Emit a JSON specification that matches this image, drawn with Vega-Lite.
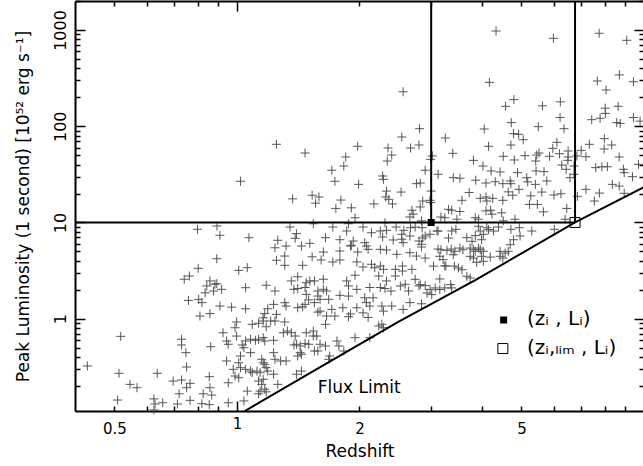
{
"$schema":"https://vega.github.io/schema/vega-lite/v6.json",
"width":569,"height":410,
"autosize":{"type":"none"},
"padding":{"left":75,"top":1,"right":0,"bottom":55},
"background":"white",
"config":{"view":{"stroke":null},"font":"DejaVu Sans",
"axis":{"domainColor":"black","domainWidth":2,"tickColor":"black","tickWidth":1.5,"labelFont":"DejaVu Sans","labelFontSize":15,"labelColor":"black","titleFont":"DejaVu Sans","titleFontSize":17,"titleFontWeight":"normal","titleColor":"black","grid":false,"labelOverlap":false,"labelFlush":false}},
"datasets":{
"grb":[
{"z":2.56,"L":228},{"z":2.81,"L":94.3},{"z":2.54,"L":77.3},{"z":1.25,"L":64.9},{"z":1.98,"L":61.9},{"z":2.35,"L":59.4},{"z":2.67,"L":59.4},{"z":2.80,"L":63.8},{"z":1.47,"L":52.7},{"z":2.40,"L":50.2},{"z":1.85,"L":47.9},{"z":2.34,"L":43.5},{"z":3.02,"L":49.1},{"z":2.99,"L":45.3},{"z":1.83,"L":38.6},{"z":1.71,"L":34.9},{"z":2.90,"L":34.9},{"z":3.12,"L":31.7},{"z":1.02,"L":26.8},{"z":1.74,"L":26.8},{"z":2.28,"L":30.4},{"z":2.29,"L":28.1},{"z":1.99,"L":24.9},{"z":2.76,"L":25.3},{"z":2.82,"L":25.7},{"z":3.0,"L":21.2},{"z":2.33,"L":21.2},{"z":2.53,"L":20.7},{"z":1.37,"L":17.6},{"z":1.53,"L":19.2},{"z":1.59,"L":18.4},{"z":1.56,"L":15.9},{"z":1.80,"L":17.1},{"z":2.32,"L":18.4},{"z":2.36,"L":17.4},{"z":2.17,"L":15.6},{"z":2.41,"L":15.6},{"z":2.86,"L":16.7},{"z":2.98,"L":17.0},{"z":1.75,"L":14.0},{"z":1.91,"L":14.2},{"z":2.69,"L":13.4},{"z":2.82,"L":14.5},{"z":2.71,"L":12.2},{"z":1.95,"L":11.2},{"z":2.66,"L":11.4},{"z":2.99,"L":16.1},
{"z":1.35,"L":8.97},{"z":1.54,"L":9.70},{"z":1.72,"L":8.97},{"z":1.88,"L":9.70},{"z":2.04,"L":8.97},{"z":2.31,"L":9.93},{"z":2.46,"L":8.97},{"z":2.57,"L":8.29},{"z":2.67,"L":8.82},{"z":2.74,"L":8.97},{"z":2.85,"L":8.82},{"z":0.908,"L":7.36},{"z":1.07,"L":6.95},{"z":1.26,"L":6.53},{"z":1.40,"L":7.65},{"z":1.39,"L":6.85},{"z":1.65,"L":6.95},{"z":1.79,"L":6.62},{"z":1.86,"L":8.15},{"z":2.14,"L":7.82},{"z":2.25,"L":8.15},{"z":2.28,"L":7.07},{"z":2.33,"L":8.29},{"z":2.54,"L":7.54},{"z":2.54,"L":6.70},{"z":2.66,"L":7.24},{"z":2.90,"L":7.24},{"z":2.98,"L":7.54},{"z":3.10,"L":8.15},
{"z":4.33,"L":976},{"z":5.99,"L":819},{"z":7.76,"L":924},{"z":9.07,"L":781},{"z":4.17,"L":286},{"z":7.68,"L":295},{"z":8.70,"L":341},{"z":9.42,"L":290},{"z":8.07,"L":238},{"z":4.79,"L":189},{"z":4.57,"L":161},{"z":5.63,"L":163},{"z":6.23,"L":179},{"z":8.64,"L":161},{"z":8.03,"L":154},{"z":8.04,"L":136},{"z":7.80,"L":121},{"z":7.44,"L":117},{"z":6.22,"L":123},{"z":9.42,"L":123},{"z":9.78,"L":113},{"z":8.57,"L":109},{"z":8.74,"L":107},{"z":4.72,"L":109},{"z":5.50,"L":98.9},{"z":6.36,"L":94.3},{"z":4.05,"L":93.6},{"z":4.78,"L":83.7},{"z":4.92,"L":82.5},{"z":5.05,"L":72.4},{"z":3.25,"L":75.5},{"z":7.99,"L":74.2},{"z":4.71,"L":63.8},{"z":4.15,"L":61.9},{"z":6.11,"L":68.0},{"z":5.97,"L":58.9},{"z":7.34,"L":64.9},{"z":7.01,"L":56.2},{"z":7.98,"L":58.0},{"z":8.33,"L":63.8},{"z":3.39,"L":52.3},{"z":3.81,"L":44.2},{"z":4.51,"L":48.7},{"z":4.80,"L":44.6},{"z":5.10,"L":49.4},{"z":5.45,"L":50.2},{"z":5.52,"L":52.7},{"z":5.86,"L":48.7},{"z":6.20,"L":51.8},{"z":6.51,"L":55.3},{"z":6.51,"L":47.9},{"z":6.84,"L":49.1},{"z":7.20,"L":48.2},{"z":8.69,"L":47.9},{"z":4.02,"L":38.6},{"z":4.21,"L":34.3},{"z":4.43,"L":33.5},{"z":4.89,"L":32.9},{"z":5.42,"L":43.5},{"z":5.43,"L":34.3},{"z":5.68,"L":33.7},{"z":6.28,"L":39.5},{"z":6.50,"L":44.2},{"z":6.44,"L":35.7},{"z":6.73,"L":38.6},{"z":6.73,"L":31.7},{"z":7.61,"L":37.1},{"z":7.88,"L":37.9},{"z":8.13,"L":37.9},{"z":8.90,"L":35.7},{"z":8.94,"L":32.9},{"z":9.69,"L":40.2},{"z":9.37,"L":29.9},{"z":3.40,"L":29.2},{"z":3.53,"L":28.8},{"z":3.86,"L":27.5},{"z":4.09,"L":25.7},{"z":4.31,"L":26.5},{"z":4.50,"L":25.3},{"z":4.69,"L":27.0},{"z":4.71,"L":25.3},{"z":5.15,"L":29.2},{"z":5.18,"L":26.4},{"z":5.41,"L":24.9},{"z":5.77,"L":27.0},{"z":3.72,"L":20.5},{"z":4.64,"L":20.8},{"z":4.76,"L":19.2},{"z":4.93,"L":22.1},{"z":5.61,"L":20.7},{"z":6.01,"L":19.3},{"z":6.25,"L":19.9},{"z":5.27,"L":18.9},{"z":3.57,"L":17.0},{"z":3.96,"L":17.8},{"z":4.11,"L":16.7},{"z":4.09,"L":18.4},{"z":4.25,"L":17.8},{"z":4.50,"L":17.0},{"z":5.23,"L":15.4},{"z":5.47,"L":15.4},{"z":6.86,"L":18.7},{"z":7.20,"L":22.1},{"z":7.77,"L":20.2},{"z":7.55,"L":16.7},{"z":8.36,"L":24.9},{"z":8.69,"L":23.9},{"z":8.94,"L":20.1},{"z":3.31,"L":13.7},{"z":3.37,"L":13.4},{"z":3.53,"L":13.0},{"z":4.09,"L":13.2},{"z":4.20,"L":13.4},{"z":4.23,"L":12.2},{"z":4.47,"L":12.6},{"z":5.66,"L":12.9},{"z":6.46,"L":14.0},{"z":6.40,"L":10.8},{"z":3.17,"L":11.4},{"z":3.24,"L":11.2},{"z":3.47,"L":10.8},{"z":3.85,"L":11.2},{"z":3.92,"L":10.8},{"z":4.51,"L":10.4},{"z":4.82,"L":10.8},{"z":2.84,"L":10.4},{"z":6.58,"L":29.2},
{"z":3.12,"L":8.15},{"z":3.37,"L":8.15},{"z":3.45,"L":8.49},{"z":3.67,"L":6.95},{"z":3.96,"L":8.15},{"z":4.11,"L":8.82},{"z":4.27,"L":8.15},{"z":4.71,"L":8.49},{"z":4.94,"L":8.82},{"z":5.30,"L":8.15},{"z":6.02,"L":8.49},{"z":4.96,"L":7.24},{"z":4.03,"L":7.54},
{"z":3.92,"L":9.13},{"z":4.15,"L":8.44},{"z":4.39,"L":8.97},{"z":2.86,"L":6.90},{"z":3.31,"L":6.90},{"z":3.78,"L":6.38},{"z":3.99,"L":6.62},{"z":3.85,"L":7.3},{"z":4.78,"L":6.62},{"z":4.69,"L":5.87},{"z":2.84,"L":5.56},{"z":3.12,"L":5.30},{"z":3.17,"L":5.21},{"z":3.28,"L":5.13},{"z":3.36,"L":5.30},{"z":3.43,"L":5.02},{"z":3.53,"L":5.42},{"z":3.59,"L":5.21},{"z":3.74,"L":5.42},{"z":3.81,"L":5.21},{"z":3.85,"L":5.02},{"z":3.92,"L":5.42},{"z":3.96,"L":5.21},{"z":4.03,"L":5.02},{"z":4.43,"L":5.02},{"z":4.56,"L":4.81},{"z":4.64,"L":5.02},{"z":3.40,"L":4.62},{"z":3.74,"L":4.45},{"z":3.81,"L":4.27},{"z":3.99,"L":4.45},{"z":4.03,"L":3.95},{"z":4.19,"L":4.37},{"z":4.43,"L":4.45},{"z":4.50,"L":4.27},{"z":2.90,"L":4.27},{"z":3.15,"L":4.45},{"z":3.21,"L":4.11},{"z":3.88,"L":3.86},{"z":3.24,"L":3.55},{"z":3.26,"L":3.52},{"z":3.04,"L":3.52},{"z":3.42,"L":3.52},{"z":3.57,"L":3.23},{"z":3.50,"L":3.37},{"z":3.67,"L":2.76},{"z":3.74,"L":2.65},{"z":3.15,"L":2.59},{"z":2.82,"L":2.26},{"z":2.90,"L":2.21},{"z":2.98,"L":2.01},{"z":2.93,"L":1.85},{"z":3.01,"L":1.78},{"z":3.07,"L":2.09},{"z":3.15,"L":2.01},{"z":3.24,"L":2.09},{"z":3.35,"L":2.26},{"z":3.37,"L":2.09},{"z":2.84,"L":1.43},
{"z":1.24,"L":5.46},{"z":1.32,"L":5.69},{"z":1.44,"L":5.69},{"z":1.51,"L":6.07},{"z":0.892,"L":4.20},{"z":1.25,"L":4.05},{"z":1.31,"L":4.48},{"z":1.31,"L":3.59},{"z":1.45,"L":3.59},{"z":1.53,"L":4.40},{"z":1.61,"L":4.08},{"z":1.01,"L":3.18},{"z":1.06,"L":3.39},{"z":0.892,"L":2.31},{"z":0.917,"L":2.02},{"z":1.05,"L":2.10},{"z":1.18,"L":2.23},{"z":1.24,"L":1.94},{"z":1.36,"L":2.47},{"z":1.41,"L":2.73},{"z":1.38,"L":2.02},{"z":1.41,"L":2.06},{"z":1.47,"L":2.11},{"z":1.48,"L":2.37},{"z":1.51,"L":2.47},{"z":1.55,"L":2.47},{"z":1.48,"L":1.79},{"z":1.58,"L":1.94},{"z":0.908,"L":1.355},{"z":0.970,"L":1.32},{"z":1.05,"L":1.27},{"z":1.19,"L":1.27},{"z":1.23,"L":1.41},{"z":1.31,"L":1.467},{"z":1.32,"L":1.355},{"z":1.41,"L":1.30},{"z":1.45,"L":1.33},{"z":1.47,"L":1.41},{"z":1.50,"L":1.57},{"z":1.55,"L":1.47},{"z":1.58,"L":1.17},{"z":1.17,"L":1.13},{"z":1.16,"L":1.02},{"z":1.25,"L":1.11},{"z":0.998,"L":0.925},{"z":1.09,"L":0.875},{"z":1.13,"L":0.897},{"z":1.16,"L":0.947},{"z":1.21,"L":0.947},{"z":1.24,"L":0.947},{"z":1.31,"L":0.925},
{"z":0.989,"L":0.806},{"z":1.18,"L":0.826},{"z":1.30,"L":0.715},{"z":1.33,"L":0.745},{"z":1.36,"L":0.715},{"z":1.39,"L":0.661},{"z":1.48,"L":0.715},{"z":1.54,"L":0.745},{"z":1.54,"L":0.661},{"z":0.924,"L":0.715},{"z":0.998,"L":0.661},{"z":0.943,"L":0.587},{"z":0.952,"L":0.543},{"z":1.05,"L":0.587},{"z":1.08,"L":0.612},{"z":1.11,"L":0.597},{"z":1.13,"L":0.612},{"z":1.16,"L":0.635},{"z":1.17,"L":0.587},{"z":1.03,"L":0.534},{"z":1.04,"L":0.50},{"z":1.23,"L":0.597},{"z":1.38,"L":0.534},{"z":1.40,"L":0.543},{"z":1.43,"L":0.521},{"z":1.47,"L":0.551},{"z":1.50,"L":0.543},{"z":1.08,"L":0.444},{"z":1.02,"L":0.410},{"z":1.23,"L":0.444},{"z":1.43,"L":0.444},{"z":1.44,"L":0.427},{"z":1.41,"L":0.410},{"z":1.55,"L":0.462},{"z":0.943,"L":0.364},{"z":1.01,"L":0.349},{"z":1.15,"L":0.379},{"z":1.16,"L":0.349},{"z":1.17,"L":0.336},{"z":1.24,"L":0.379},{"z":1.28,"L":0.364},{"z":1.32,"L":0.364},{"z":0.979,"L":0.298},{"z":1.02,"L":0.310},{"z":1.05,"L":0.298},{"z":1.08,"L":0.286},{"z":1.09,"L":0.275},{"z":1.12,"L":0.286},{"z":1.14,"L":0.275},{"z":1.18,"L":0.310},{"z":1.19,"L":0.286},{"z":1.23,"L":0.265},{"z":1.40,"L":0.265},{"z":1.44,"L":0.286},{"z":0.989,"L":0.254},{"z":1.01,"L":0.244},{"z":1.16,"L":0.235},{"z":0.952,"L":0.216},{"z":1.13,"L":0.225},{"z":1.15,"L":0.208},{"z":1.26,"L":0.208},{"z":1.14,"L":0.177},{"z":1.17,"L":0.185},{"z":1.18,"L":0.174},{"z":1.13,"L":0.166},{"z":1.06,"L":0.177},{"z":0.952,"L":0.134},{"z":1.04,"L":0.140},
{"z":1.93,"L":6.42},{"z":1.91,"L":5.79},{"z":2.06,"L":6.17},{"z":2.08,"L":5.69},{"z":2.10,"L":5.26},{"z":2.42,"L":6.58},{"z":2.56,"L":6.17},{"z":2.80,"L":6.42},{"z":2.84,"L":5.93},{"z":1.63,"L":4.93},{"z":1.79,"L":5.05},{"z":1.90,"L":5.69},{"z":1.98,"L":4.93},{"z":2.25,"L":5.26},{"z":2.33,"L":5.18},{"z":2.47,"L":4.67},{"z":2.66,"L":4.85},{"z":2.76,"L":4.48},{"z":1.72,"L":3.89},{"z":1.79,"L":4.08},{"z":1.97,"L":3.89},{"z":2.04,"L":3.45},{"z":2.14,"L":3.68},{"z":2.18,"L":3.39},{"z":2.25,"L":3.53},{"z":2.29,"L":3.26},{"z":2.45,"L":3.26},{"z":2.55,"L":3.53},{"z":2.55,"L":3.13},{"z":2.69,"L":3.26},{"z":1.95,"L":2.83},{"z":2.45,"L":2.78},{"z":1.63,"L":2.57},{"z":1.86,"L":2.47},{"z":2.23,"L":2.78},{"z":2.33,"L":2.47},{"z":2.74,"L":2.57},{"z":2.80,"L":2.19},{"z":2.52,"L":2.19},{"z":2.59,"L":2.28},{"z":1.63,"L":2.02},{"z":1.66,"L":1.94},{"z":1.88,"L":2.19},{"z":1.97,"L":2.02},{"z":2.12,"L":2.11},{"z":2.25,"L":2.11},{"z":2.31,"L":2.06},{"z":2.39,"L":1.94},{"z":2.64,"L":1.94},{"z":1.58,"L":1.72},{"z":1.60,"L":1.59},{"z":1.68,"L":1.59},{"z":1.79,"L":1.75},{"z":1.88,"L":1.72},{"z":2.06,"L":1.65},{"z":2.16,"L":1.65},{"z":2.66,"L":1.47},{"z":1.60,"L":1.20},{"z":1.71,"L":1.25},{"z":1.82,"L":1.30},{"z":1.90,"L":1.12},{"z":1.97,"L":1.30},{"z":2.08,"L":1.47},{"z":2.12,"L":1.355},{"z":2.27,"L":1.355},{"z":2.29,"L":1.20},{"z":2.40,"L":1.355},{"z":2.56,"L":1.25},{"z":1.66,"L":1.067},{"z":1.74,"L":1.067},{"z":1.88,"L":1.05},{"z":2.04,"L":1.15},{"z":2.10,"L":1.03},{"z":2.27,"L":0.875},{"z":1.65,"L":0.875},
{"z":1.57,"L":0.661},{"z":1.60,"L":0.543},{"z":1.65,"L":0.521},{"z":1.58,"L":0.462},{"z":1.76,"L":0.587},{"z":1.78,"L":0.521},{"z":1.83,"L":0.462},{"z":1.69,"L":0.410},{"z":1.68,"L":0.379},{"z":1.95,"L":0.635},{"z":2.12,"L":0.635},{"z":2.23,"L":0.84},{"z":2.29,"L":0.806},
{"z":0.80,"L":8.5},{"z":0.893,"L":9.19},{"z":0.803,"L":3.34},{"z":0.742,"L":2.57},{"z":0.764,"L":2.78},{"z":0.858,"L":2.47},{"z":0.843,"L":2.19},{"z":0.883,"L":2.28},{"z":0.835,"L":1.86},{"z":0.876,"L":1.94},{"z":0.760,"L":1.55},{"z":0.805,"L":1.59},{"z":0.82,"L":1.47},{"z":0.811,"L":1.067},{"z":0.858,"L":1.13},{"z":0.518,"L":0.656},{"z":0.731,"L":0.612},{"z":0.731,"L":0.534},{"z":0.749,"L":0.444},{"z":0.862,"L":0.512},{"z":0.429,"L":0.323},{"z":0.513,"L":0.271},{"z":0.752,"L":0.315},{"z":0.637,"L":0.271},{"z":0.855,"L":0.250},{"z":0.546,"L":0.208},{"z":0.568,"L":0.192},{"z":0.697,"L":0.225},{"z":0.731,"L":0.231},{"z":0.752,"L":0.192},{"z":0.767,"L":0.213},{"z":0.858,"L":0.192},{"z":0.721,"L":0.166},{"z":0.826,"L":0.166},{"z":0.867,"L":0.161},{"z":0.509,"L":0.143},{"z":0.625,"L":0.147},{"z":0.629,"L":0.130},{"z":0.657,"L":0.134},{"z":0.714,"L":0.130},{"z":0.767,"L":0.142},{"z":0.82,"L":0.131},{"z":0.855,"L":0.128},{"z":0.625,"L":0.113}
],
"rules":[{"z":0.4,"z2":6.77,"L":10,"L2":10},{"z":3,"z2":3,"L":10,"L2":2000},{"z":6.77,"z2":6.77,"L":10,"L2":2000}],
"flux":[{"z":1.046,"L":0.11},{"z":1.555,"L":0.293},{"z":2.49,"L":0.925},{"z":3.85,"L":2.52},{"z":6.77,"L":10.0},{"z":10.0,"L":23.3}],
"filledsq":[{"z":3,"L":10},{"z":4.52,"L":0.97}],
"opensq":[{"z":6.77,"L":10},{"z":4.50,"L":0.49}],
"flux_label":[{"z":1.58,"L":0.169,"text":"Flux Limit"}],
"legend_labels":[{"z":5.16,"L":0.86,"text":"(zᵢ , Lᵢ)"},{"z":5.16,"L":0.43,"text":"(zᵢ,ₗᵢₘ , Lᵢ)"}]
},
"layer":[
{"data":{"name":"grb"},
"mark":{"type":"point","shape":"M-1,0L1,0M0,-1L0,1","size":81,"filled":false,"stroke":"#555555","strokeWidth":1,"opacity":1},
"encoding":{
"x":{"field":"z","type":"quantitative","scale":{"type":"log","domain":[0.4,10],"nice":false,"zero":false},
"axis":{"orient":"bottom","title":"Redshift","values":[0.5,0.6,0.7,0.8,0.9,1,2,3,4,5,6,7,8,9,10],"labelExpr":"indexof([0.5,1,2,5], datum.value) >= 0 ? toString(datum.value) : ''","tickSize":{"condition":{"test":"datum.value == 1 || datum.value == 10","value":-10},"value":-5},"labelPadding":15,"titlePadding":7}},
"y":{"field":"L","type":"quantitative","scale":{"type":"log","domain":[0.11,2000],"nice":false,"zero":false},
"axis":{"orient":"left","title":"Peak Luminosity (1 second) [10⁵² erg s⁻¹]","values":[0.2,0.3,0.4,0.5,0.6,0.7,0.8,0.9,1,2,3,4,5,6,7,8,9,10,20,30,40,50,60,70,80,90,100,200,300,400,500,600,700,800,900,1000,2000],"labelExpr":"indexof([1,10,100,1000], datum.value) >= 0 ? toString(datum.value) : ''","labelAngle":-90,"labelAlign":"center","labelBaseline":"alphabetic","labelFontSize":16,"tickSize":{"condition":{"test":"datum.value == 1 || datum.value == 10 || datum.value == 100 || datum.value == 1000","value":-10},"value":-5},"labelPadding":20,"titlePadding":15}}}},
{"data":{"name":"flux"},
"mark":{"type":"line","stroke":"black","strokeWidth":2},
"encoding":{
"x":{"field":"z","type":"quantitative","axis":{"orient":"top","labels":false,"title":null,"values":[0.5,0.6,0.7,0.8,0.9,1,2,3,4,5,6,7,8,9,10],"tickSize":{"condition":{"test":"datum.value == 1 || datum.value == 10","value":-10},"value":-5}}},
"y":{"field":"L","type":"quantitative","axis":{"orient":"right","labels":false,"title":null,"values":[0.2,0.3,0.4,0.5,0.6,0.7,0.8,0.9,1,2,3,4,5,6,7,8,9,10,20,30,40,50,60,70,80,90,100,200,300,400,500,600,700,800,900,1000,2000],"tickSize":{"condition":{"test":"datum.value == 1 || datum.value == 10 || datum.value == 100 || datum.value == 1000","value":-10},"value":-5}}}}},
{"data":{"name":"rules"},
"mark":{"type":"rule","stroke":"black","strokeWidth":2},
"encoding":{"x":{"field":"z","type":"quantitative","axis":null},"x2":{"field":"z2"},"y":{"field":"L","type":"quantitative","axis":null},"y2":{"field":"L2"}}},
{"data":{"name":"filledsq"},
"mark":{"type":"point","shape":"square","size":49,"filled":true,"fill":"black","stroke":null,"opacity":1},
"encoding":{"x":{"field":"z","type":"quantitative","axis":null},"y":{"field":"L","type":"quantitative","axis":null}}},
{"data":{"name":"opensq"},
"mark":{"type":"point","shape":"square","size":100,"filled":false,"stroke":"black","strokeWidth":1,"opacity":1},
"encoding":{"x":{"field":"z","type":"quantitative","axis":null},"y":{"field":"L","type":"quantitative","axis":null}}},
{"data":{"name":"flux_label"},
"mark":{"type":"text","align":"left","baseline":"alphabetic","font":"DejaVu Sans","fontSize":17,"color":"black"},
"encoding":{"x":{"field":"z","type":"quantitative","axis":null},"y":{"field":"L","type":"quantitative","axis":null},"text":{"field":"text"}}},
{"data":{"name":"legend_labels"},
"mark":{"type":"text","align":"left","baseline":"alphabetic","font":"DejaVu Sans","fontSize":20,"color":"black"},
"encoding":{"x":{"field":"z","type":"quantitative","axis":null},"y":{"field":"L","type":"quantitative","axis":null},"text":{"field":"text"}}}
],
"resolve":{"axis":{"x":"independent","y":"independent"}}
}
